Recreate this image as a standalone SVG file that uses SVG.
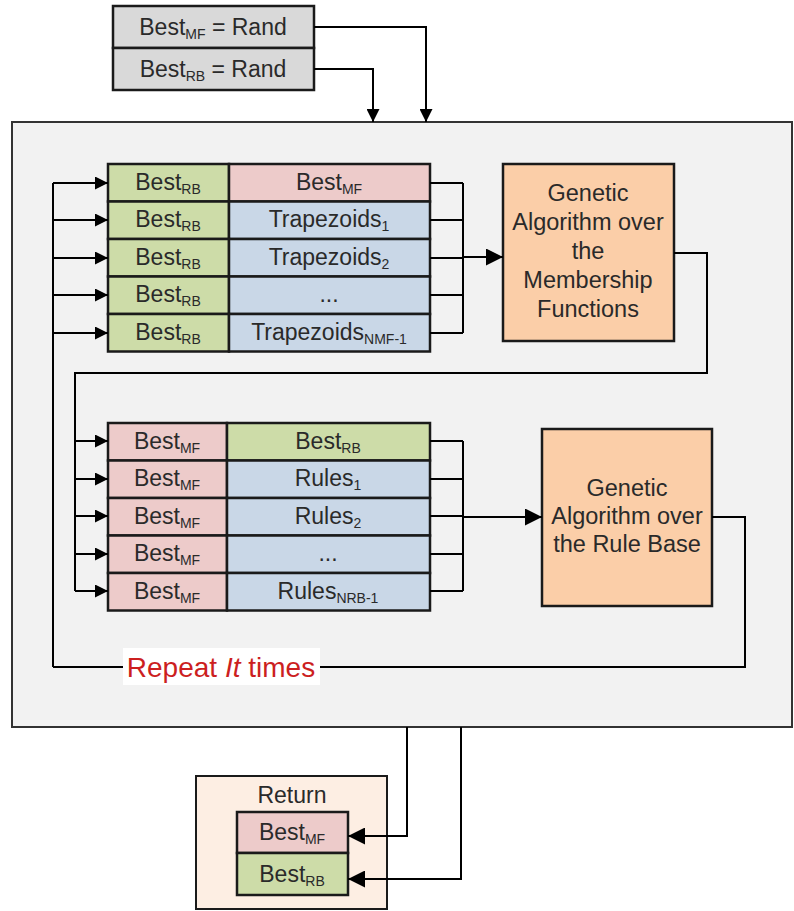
<svg xmlns="http://www.w3.org/2000/svg" width="794" height="911" viewBox="0 0 794 911">
<defs>
<marker id="ah" viewBox="0 0 10 10" markerWidth="13" markerHeight="13" refX="10" refY="5" orient="auto" markerUnits="userSpaceOnUse"><path d="M0,0 L10,5 L0,10 z" fill="#000"/></marker>
<marker id="ahb" viewBox="0 0 10 10" markerWidth="17" markerHeight="17" refX="10" refY="5" orient="auto" markerUnits="userSpaceOnUse"><path d="M0,0 L10,5 L0,10 z" fill="#000"/></marker>
</defs>
<style>
.t{font-family:"Liberation Sans",Arial,sans-serif;font-size:23px;fill:#2a2a2a;text-anchor:middle}
.s{font-size:14px}
.box{stroke:#1a1a1a;stroke-width:2.5}
.g{fill:#cddca8}
.p{fill:#edcbca}
.b{fill:#c9d7e7}
.o{fill:#fbcea8}
.gr{fill:#d9d9d9}
.ln{fill:none;stroke:#000;stroke-width:2}
.ga{font-size:23.5px}
</style>
<rect width="794" height="911" fill="#fff"/>
<g id="outer"><rect x="12" y="122" width="780" height="605" fill="#f2f2f2" stroke="#333" stroke-width="2"/></g>

<g id="init">
<rect class="box gr" x="113" y="6" width="201" height="42"/>
<text class="t" x="213" y="35">Best<tspan class="s" dy="4">MF</tspan><tspan dy="-4"> = Rand</tspan></text>
<rect class="box gr" x="113" y="48" width="201" height="42"/>
<text class="t" x="213" y="77">Best<tspan class="s" dy="4">RB</tspan><tspan dy="-4"> = Rand</tspan></text>
</g>

<g id="mf-table">
<rect class="box g" x="108" y="164" width="121" height="37.5"/>
<rect class="box p" x="229" y="164" width="201" height="37.5"/>
<rect class="box g" x="108" y="201.5" width="121" height="37.5"/>
<rect class="box b" x="229" y="201.5" width="201" height="37.5"/>
<rect class="box g" x="108" y="239" width="121" height="37.5"/>
<rect class="box b" x="229" y="239" width="201" height="37.5"/>
<rect class="box g" x="108" y="276.5" width="121" height="37.5"/>
<rect class="box b" x="229" y="276.5" width="201" height="37.5"/>
<rect class="box g" x="108" y="314" width="121" height="37.5"/>
<rect class="box b" x="229" y="314" width="201" height="37.5"/>
<text class="t" x="168" y="190">Best<tspan class="s" dy="4">RB</tspan></text>
<text class="t" x="168" y="227">Best<tspan class="s" dy="4">RB</tspan></text>
<text class="t" x="168" y="265">Best<tspan class="s" dy="4">RB</tspan></text>
<text class="t" x="168" y="302">Best<tspan class="s" dy="4">RB</tspan></text>
<text class="t" x="168" y="340">Best<tspan class="s" dy="4">RB</tspan></text>
<text class="t" x="329" y="190">Best<tspan class="s" dy="4">MF</tspan></text>
<text class="t" x="329" y="227">Trapezoids<tspan class="s" dy="4">1</tspan></text>
<text class="t" x="329" y="265">Trapezoids<tspan class="s" dy="4">2</tspan></text>
<text class="t" x="329" y="302">...</text>
<text class="t" x="329" y="340">Trapezoids<tspan class="s" dy="4">NMF-1</tspan></text>
</g>

<g id="ga-mf">
<rect class="box o" x="503" y="164" width="171" height="177"/>
<text class="t ga" x="588" y="201">Genetic</text>
<text class="t ga" x="588" y="230">Algorithm over</text>
<text class="t ga" x="588" y="259">the</text>
<text class="t ga" x="588" y="288">Membership</text>
<text class="t ga" x="588" y="317">Functions</text>
</g>

<g id="rb-table">
<rect class="box p" x="108" y="423" width="119" height="37.5"/>
<rect class="box g" x="227" y="423" width="203" height="37.5"/>
<rect class="box p" x="108" y="460.5" width="119" height="37.5"/>
<rect class="box b" x="227" y="460.5" width="203" height="37.5"/>
<rect class="box p" x="108" y="498" width="119" height="37.5"/>
<rect class="box b" x="227" y="498" width="203" height="37.5"/>
<rect class="box p" x="108" y="535.5" width="119" height="37.5"/>
<rect class="box b" x="227" y="535.5" width="203" height="37.5"/>
<rect class="box p" x="108" y="573" width="119" height="37.5"/>
<rect class="box b" x="227" y="573" width="203" height="37.5"/>
<text class="t" x="167" y="449">Best<tspan class="s" dy="4">MF</tspan></text>
<text class="t" x="167" y="486">Best<tspan class="s" dy="4">MF</tspan></text>
<text class="t" x="167" y="524">Best<tspan class="s" dy="4">MF</tspan></text>
<text class="t" x="167" y="561">Best<tspan class="s" dy="4">MF</tspan></text>
<text class="t" x="167" y="599">Best<tspan class="s" dy="4">MF</tspan></text>
<text class="t" x="328" y="449">Best<tspan class="s" dy="4">RB</tspan></text>
<text class="t" x="328" y="486">Rules<tspan class="s" dy="4">1</tspan></text>
<text class="t" x="328" y="524">Rules<tspan class="s" dy="4">2</tspan></text>
<text class="t" x="328" y="561">...</text>
<text class="t" x="328" y="599">Rules<tspan class="s" dy="4">NRB-1</tspan></text>
</g>

<g id="ga-rb">
<rect class="box o" x="542" y="429" width="170" height="177"/>
<text class="t ga" x="627" y="496">Genetic</text>
<text class="t ga" x="627" y="524">Algorithm over</text>
<text class="t ga" x="627" y="552">the Rule Base</text>
</g>

<g id="return">
<rect x="196" y="776" width="191" height="133" fill="#fdeee3" stroke="#1a1a1a" stroke-width="2"/>
<text class="t" x="292" y="803">Return</text>
<rect class="box p" x="237" y="812" width="111" height="41"/>
<text class="t" x="292" y="840">Best<tspan class="s" dy="4">MF</tspan></text>
<rect class="box g" x="237" y="853" width="111" height="42"/>
<text class="t" x="292" y="882">Best<tspan class="s" dy="4">RB</tspan></text>
</g>

<g id="connectors">
<path class="ln" d="M314,27 H426 V122" marker-end="url(#ah)"/>
<path class="ln" d="M314,69 H373 V122" marker-end="url(#ah)"/>
<path class="ln" d="M53,667 V183"/>
<path class="ln" d="M53,183 H108" marker-end="url(#ah)"/>
<path class="ln" d="M53,220 H108" marker-end="url(#ah)"/>
<path class="ln" d="M53,258 H108" marker-end="url(#ah)"/>
<path class="ln" d="M53,295 H108" marker-end="url(#ah)"/>
<path class="ln" d="M53,333 H108" marker-end="url(#ah)"/>
<path class="ln" d="M430,183 H463 M430,220 H463 M430,258 H463 M430,295 H463 M430,333 H463 M463,183 V333"/>
<path class="ln" d="M463,257 H503" marker-end="url(#ahb)"/>
<path class="ln" d="M674,253 H707 V373 H75 V591"/>
<path class="ln" d="M75,441 H108" marker-end="url(#ah)"/>
<path class="ln" d="M75,479 H108" marker-end="url(#ah)"/>
<path class="ln" d="M75,516 H108" marker-end="url(#ah)"/>
<path class="ln" d="M75,554 H108" marker-end="url(#ah)"/>
<path class="ln" d="M75,591 H108" marker-end="url(#ah)"/>
<path class="ln" d="M430,441 H463 M430,479 H463 M430,516 H463 M430,554 H463 M430,591 H463 M463,441 V591"/>
<path class="ln" d="M463,517 H542" marker-end="url(#ahb)"/>
<path class="ln" d="M712,517 H745 V667 H53"/>
<path class="ln" d="M407,727 V836 H348" marker-end="url(#ahb)"/>
<path class="ln" d="M461,727 V879 H348" marker-end="url(#ahb)"/>
</g>

<g id="repeat-label">
<rect x="123" y="648" width="197" height="37" fill="#fff"/>
<text x="221" y="677" font-family="'Liberation Sans',Arial,sans-serif" font-size="28" fill="#cc1f1f" text-anchor="middle">Repeat <tspan font-style="italic">It</tspan> times</text>
</g>
</svg>
